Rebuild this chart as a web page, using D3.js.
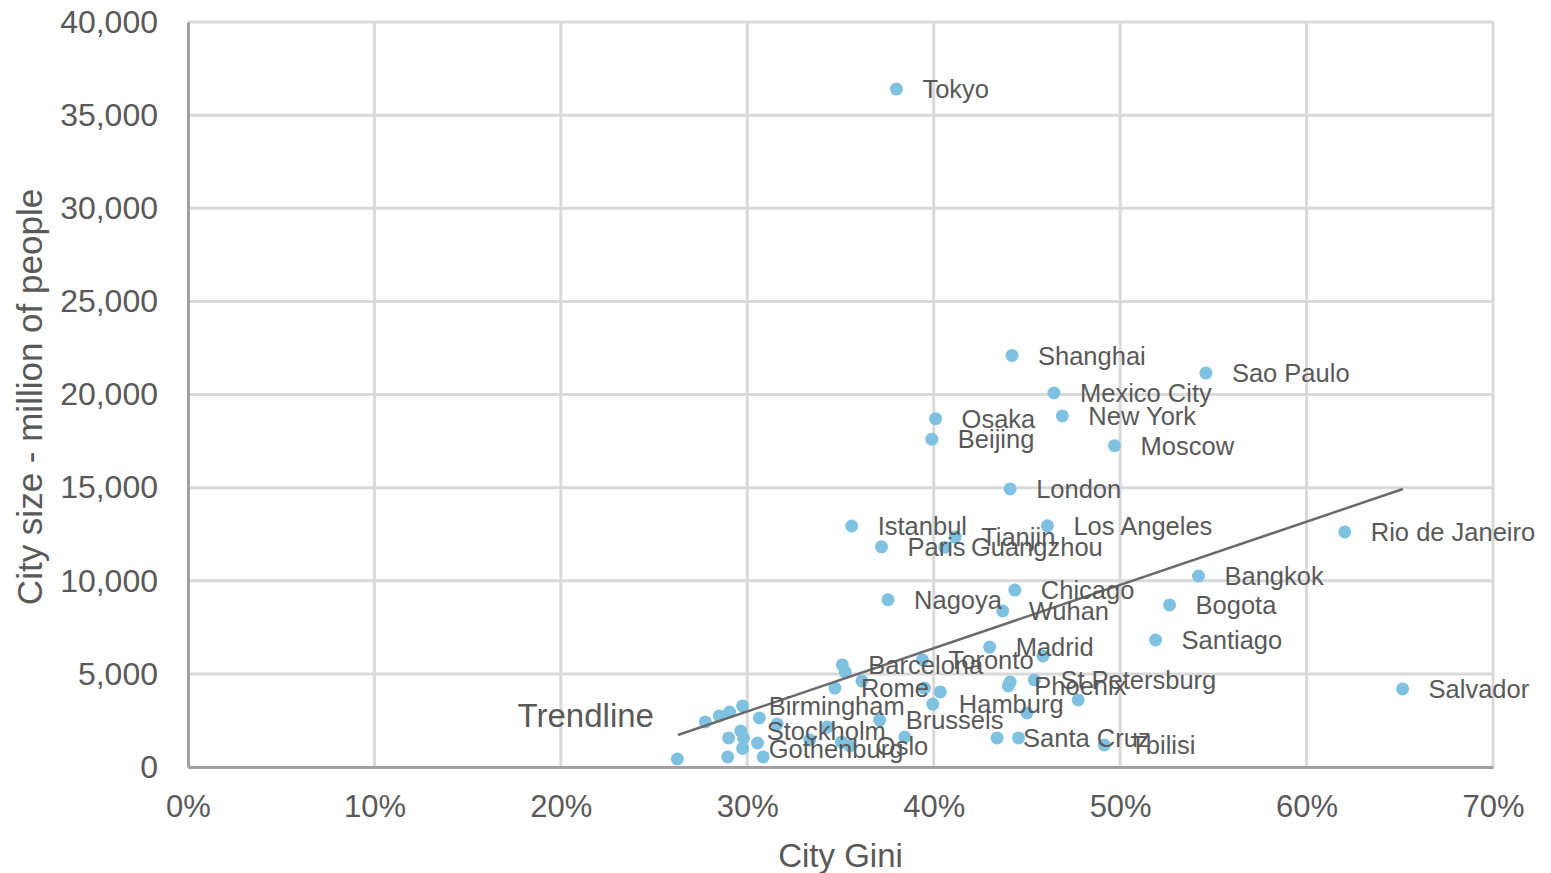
<!DOCTYPE html>
<html>
<head>
<meta charset="utf-8">
<script src="https://cdn.jsdelivr.net/npm/d3@7"></script>
<style>
  body { margin: 0; background: #fff; }
  text { font-family: "Liberation Sans", Arial, sans-serif; fill: #595959; }
</style>
</head>
<body>
<div id="chart"></div>
<script>
// labelled cities
const cityNames = ["Tokyo", "Shanghai", "Sao Paulo", "Mexico City", "New York", "Osaka", "Beijing",
    "Moscow", "London", "Istanbul", "Los Angeles", "Tianjin", "Paris", "Guangzhou", "Rio de Janeiro",
    "Bangkok", "Chicago", "Nagoya", "Bogota", "Wuhan", "Santiago", "Madrid", "Toronto", "Barcelona",
    "St Petersburg", "Rome", "Salvador", "Phoenix", "Hamburg", "Birmingham", "Brussels", "Stockholm",
    "Santa Cruz", "Oslo", "Tbilisi", "Gothenburg"];
const cityGini = [0.380, 0.442, 0.546, 0.4645, 0.469, 0.401, 0.399,
    0.497, 0.441, 0.356, 0.461, 0.4115, 0.372, 0.406, 0.6205,
    0.542, 0.4435, 0.3755, 0.5265, 0.437, 0.519, 0.430, 0.394, 0.351,
    0.454, 0.347, 0.6515, 0.440, 0.3995, 0.2975, 0.371, 0.2965,
    0.434, 0.355, 0.4915, 0.2975];
const citySize = [36400, 22100, 21150, 20080, 18850, 18700, 17600,
    17250, 14930, 12940, 12950, 12350, 11820, 11800, 12620,
    10250, 9500, 8980, 8700, 8380, 6820, 6440, 5750, 5480,
    4670, 4240, 4190, 4350, 3380, 3280, 2520, 1930,
    1560, 1130, 1180, 1000];

// unlabelled cities
const otherGini = [0.2625, 0.2775, 0.285, 0.2905, 0.3065, 0.290, 0.298, 0.3055, 0.2895, 0.3085,
    0.316, 0.3335, 0.343, 0.3505, 0.3525, 0.3615, 0.3845, 0.395, 0.4035, 0.4586,
    0.441, 0.450, 0.4455, 0.4775];
const otherSize = [430, 2420, 2740, 2950, 2630, 1560, 1560, 1290, 540, 540,
    2310, 1450, 2150, 1340, 5100, 4620, 1610, 4240, 4030, 5960,
    4560, 2900, 1560, 3600];

// trendline
const trendSlope = 33963;
const trendIntercept = -7207;
const trendRange = [0.2628, 0.6517];

const xTicks = [0, 0.1, 0.2, 0.3, 0.4, 0.5, 0.6, 0.7];
const yTicks = [0, 5000, 10000, 15000, 20000, 25000, 30000, 35000, 40000];

const margin = { top: 22, right: 58, bottom: 106, left: 188 };
const width = 1551 - margin.left - margin.right;
const height = 873 - margin.top - margin.bottom;

const svg = d3.select("#chart")
    .append("svg")
    .attr("width", 1551)
    .attr("height", 873)
    .append("g")
    .attr("transform", `translate(${margin.left},${margin.top})`);

const x = d3.scaleLinear().domain([0, 0.7]).range([0, width]);
const y = d3.scaleLinear().domain([0, 40000]).range([height, 0]);

// gridlines
svg.selectAll("line.vgrid")
    .data(xTicks.slice(1))
    .join("line")
    .attr("x1", d => x(d)).attr("x2", d => x(d))
    .attr("y1", 0).attr("y2", height)
    .attr("stroke", "#d9d9d9")
    .attr("stroke-width", 3);

svg.selectAll("line.hgrid")
    .data(yTicks.slice(1))
    .join("line")
    .attr("x1", 0).attr("x2", width)
    .attr("y1", d => y(d)).attr("y2", d => y(d))
    .attr("stroke", "#d9d9d9")
    .attr("stroke-width", 3);

// axes
const xAxis = svg.append("g")
    .attr("transform", `translate(0,${height})`)
    .call(d3.axisBottom(x).tickValues(xTicks).tickFormat(d3.format(".0%")).tickSize(0).tickPadding(28));
xAxis.select(".domain").attr("stroke", "#a0a0a0").attr("stroke-width", 3);
xAxis.selectAll("text").style("font-size", "31px").attr("fill", "#595959");

const yAxis = svg.append("g")
    .call(d3.axisLeft(y).tickValues(yTicks).tickFormat(d3.format(",")).tickSize(0).tickPadding(30));
yAxis.select(".domain").attr("stroke", "#a0a0a0").attr("stroke-width", 3);
yAxis.selectAll("text").style("font-size", "32px").attr("fill", "#595959");

// points
const dotColor = "#7fc1e0";
svg.selectAll("circle.other")
    .data(d3.zip(otherGini, otherSize))
    .join("circle")
    .attr("cx", d => x(d[0]))
    .attr("cy", d => y(d[1]))
    .attr("r", 6.5)
    .attr("fill", dotColor);

const cities = cityNames.map((name, i) => ({ name, gini: cityGini[i], size: citySize[i] }));

svg.selectAll("circle.city")
    .data(cities)
    .join("circle")
    .attr("cx", d => x(d.gini))
    .attr("cy", d => y(d.size))
    .attr("r", 6.5)
    .attr("fill", dotColor);

// trendline
svg.append("line")
    .attr("x1", x(trendRange[0]))
    .attr("y1", y(trendSlope * trendRange[0] + trendIntercept))
    .attr("x2", x(trendRange[1]))
    .attr("y2", y(trendSlope * trendRange[1] + trendIntercept))
    .attr("stroke", "#6a6a6a")
    .attr("stroke-width", 2.5);

svg.append("text")
    .attr("x", x(trendRange[0]) - 24)
    .attr("y", y(trendSlope * trendRange[0] + trendIntercept) - 20)
    .attr("text-anchor", "end")
    .attr("dy", "0.35em")
    .style("font-size", "33px")
    .text("Trendline");

// labels
svg.selectAll("text.label")
    .data(cities)
    .join("text")
    .attr("class", "label")
    .attr("x", d => x(d.gini) + 26)
    .attr("y", d => y(d.size))
    .attr("dy", "0.36em")
    .style("font-size", "25.5px")
    .text(d => d.name);

// axis titles
svg.append("text")
    .attr("x", width / 2)
    .attr("y", height + 100)
    .attr("text-anchor", "middle")
    .style("font-size", "33px")
    .text("City Gini");

svg.append("text")
    .attr("transform", `translate(${-146},${375}) rotate(-90)`)
    .attr("text-anchor", "middle")
    .style("font-size", "35px")
    .text("City size - million of people");
</script>
</body>
</html>
